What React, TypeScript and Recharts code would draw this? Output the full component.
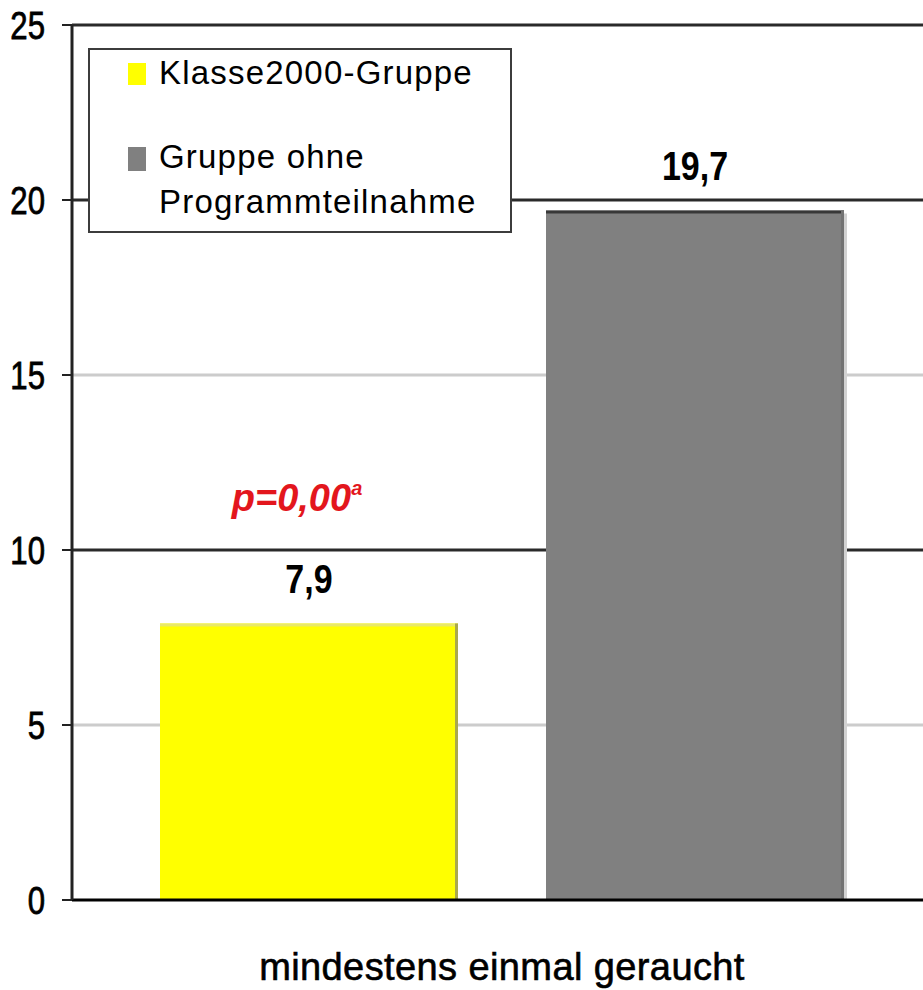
import { BarChart, Bar, XAxis, YAxis, CartesianGrid, Legend, LabelList } from "recharts";

const categories = ["mindestens einmal geraucht"];
const klasseValues = [7.9];
const ohneValues = [19.7];
const seriesNames = ["Klasse2000-Gruppe", "Gruppe ohne Programmteilnahme"];
const pLabels = ["p=0,00"];
const pSuperscripts = ["a"];
const yTicks = [0, 5, 10, 15, 20, 25];
const lightGridValues = [5, 15];
const darkGridValues = [10, 20, 25];

const data = categories.map((category, i) => ({
  category,
  klasse: klasseValues[i],
  ohne: ohneValues[i],
  p: pLabels[i],
  sup: pSuperscripts[i],
}));

const FONT = "'Liberation Sans', Arial, sans-serif";
const fmt = (v: number) => v.toFixed(1).replace(".", ",");

// flat Excel-style bars with a thin shaded edge
const makeShape = (top: string, right: string, outside?: string) => (p: any) => {
  const { x, y, width, height, fill } = p;
  return (
    <g>
      <rect x={x} y={y} width={width} height={height} fill={fill} />
      <rect x={x} y={y} width={width} height={3} fill={top} />
      <rect x={x + width - 3} y={y} width={3} height={height} fill={right} />
      {outside && <rect x={x + width} y={y + 3} width={3} height={height - 3} fill={outside} />}
    </g>
  );
};

const YTick = ({ x, y, payload }: any) => (
  <g transform={`translate(${x},${y})`}>
    <text
      transform="scale(0.82,1)"
      textAnchor="end"
      y={14}
      fontSize={38}
      fontFamily={FONT}
      fill="#000"
      stroke="#000"
      strokeWidth={0.8}
    >
      {payload.value}
    </text>
  </g>
);

const XTick = ({ x, y, payload }: any) => (
  <text
    x={x}
    y={y}
    dy={80}
    textAnchor="middle"
    fontSize={38}
    letterSpacing={0.4}
    fontFamily={FONT}
    fill="#000"
    stroke="#000"
    strokeWidth={0.6}
  >
    {payload.value}
  </text>
);

const ValueLabel = ({ x, y, width, value }: any) => (
  <g transform={`translate(${x + width / 2},${y - 31})`}>
    <text transform="scale(0.85,1)" textAnchor="middle" fontSize={40} fontWeight="bold" fontFamily={FONT} fill="#000">
      {fmt(value)}
    </text>
  </g>
);

const KlasseLabel = (props: any) => {
  const { x, y, width, index } = props;
  const row = data[index];
  return (
    <g>
      <ValueLabel {...props} />
      <text
        x={x + width / 2 - 12}
        y={y - 113}
        textAnchor="middle"
        fontSize={38}
        fontWeight="bold"
        fontStyle="italic"
        fontFamily={FONT}
        fill="#e3161d"
      >
        {row.p}
        <tspan fontSize={20} dy={-16}>{row.sup}</tspan>
      </text>
    </g>
  );
};

const LegendBox = ({ payload }: any) => {
  const items = [...(payload || [])].sort(
    (a: any, b: any) => seriesNames.indexOf(a.value) - seriesNames.indexOf(b.value)
  );
  return (
    <div
      style={{
        position: "relative",
        boxSizing: "border-box",
        width: 424,
        height: 185,
        border: "2px solid #3c3c3c",
        background: "#fff",
        fontFamily: FONT,
        fontSize: 33,
        letterSpacing: 1.2,
        color: "#000",
        textAlign: "left",
      }}
    >
      {items.map((entry: any, i: number) => (
        <div key={entry.value}>
          <div
            style={{
              position: "absolute",
              left: 38,
              top: i === 0 ? 13 : 97,
              width: 18,
              height: i === 0 ? 22 : 24,
              background: entry.color,
            }}
          />
          <div
            style={{
              position: "absolute",
              left: 69,
              top: i === 0 ? 0 : 84,
              width: 330,
              lineHeight: "45px",
              whiteSpace: "normal",
            }}
          >
            {entry.value}
          </div>
        </div>
      ))}
    </div>
  );
};

export default function App() {
  return (
    <div
      style={{
        position: "absolute",
        left: 0,
        top: 0,
        width: 923,
        height: 990,
        overflow: "hidden",
        background: "#fff",
      }}
    >
      <BarChart
        width={940}
        height={990}
        data={data}
        margin={{ top: 25, right: 8, left: 12, bottom: 0 }}
        barCategoryGap={88}
        barGap={88}
      >
        <CartesianGrid vertical={false} horizontalValues={lightGridValues} stroke="#cccccc" strokeWidth={3} />
        <CartesianGrid vertical={false} horizontalValues={darkGridValues} stroke="#2a2a2a" strokeWidth={3} />
        <XAxis
          dataKey="category"
          height={90}
          axisLine={{ stroke: "#000", strokeWidth: 3 }}
          tickLine={false}
          tickSize={0}
          tickMargin={0}
          tick={<XTick />}
        />
        <YAxis
          domain={[0, 25]}
          ticks={yTicks}
          interval={0}
          width={60}
          tickSize={10}
          tickMargin={17}
          axisLine={{ stroke: "#222", strokeWidth: 3 }}
          tickLine={{ stroke: "#222", strokeWidth: 2 }}
          tick={<YTick />}
        />
        <Legend
          layout="vertical"
          align="center"
          verticalAlign="middle"
          content={<LegendBox />}
          wrapperStyle={{ position: "absolute", left: 88, top: 48, width: 424, height: 185 }}
        />
        <Bar
          dataKey="klasse"
          name={seriesNames[0]}
          fill="#ffff00"
          shape={makeShape("#e8e86a", "#a9a84c")}
          isAnimationActive={false}
        >
          <LabelList dataKey="klasse" content={<KlasseLabel />} />
        </Bar>
        <Bar
          dataKey="ohne"
          name={seriesNames[1]}
          fill="#808080"
          shape={makeShape("#383838", "#737373", "#d2d2d2")}
          isAnimationActive={false}
        >
          <LabelList dataKey="ohne" content={<ValueLabel />} />
        </Bar>
      </BarChart>
    </div>
  );
}
